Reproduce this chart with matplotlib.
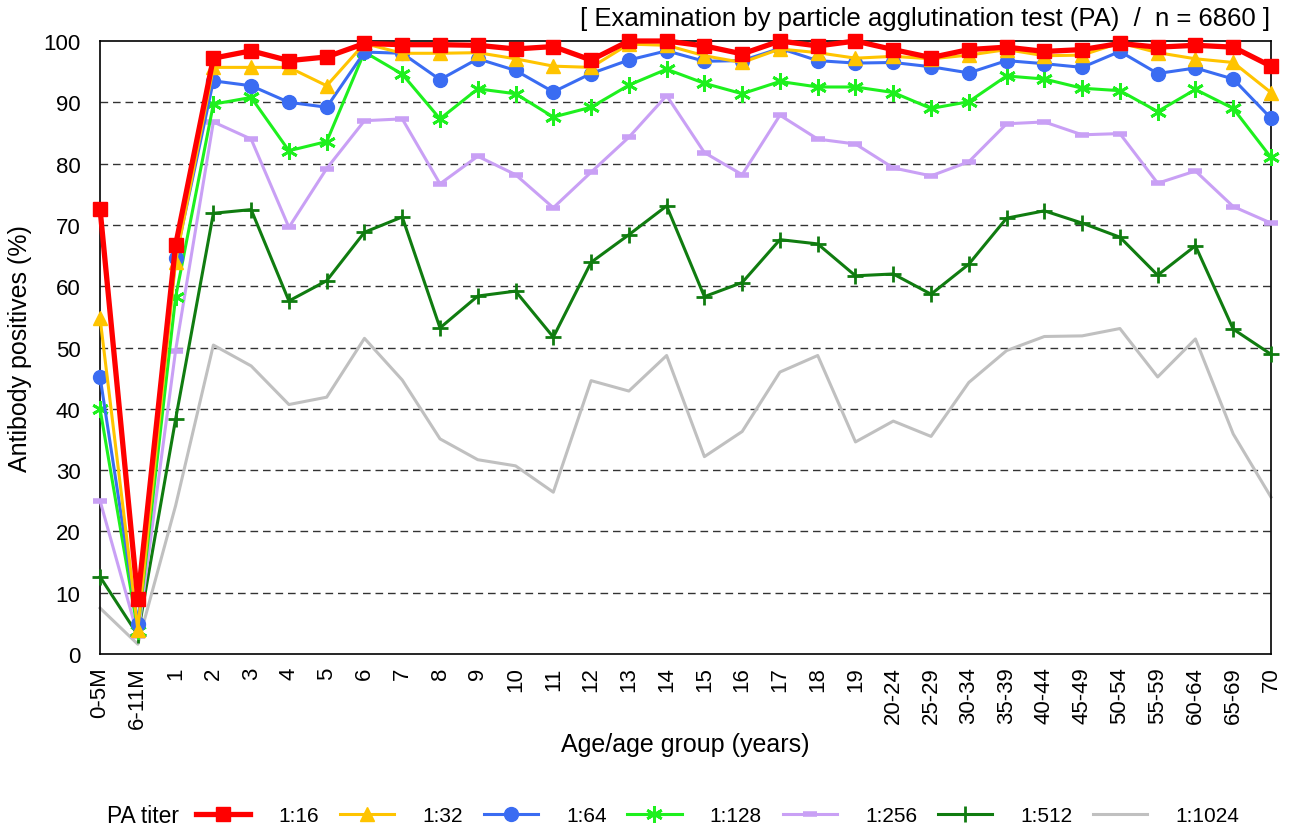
import matplotlib.pyplot as plt
import numpy as np

plt.rcParams['font.family'] = ['Liberation Sans', 'DejaVu Sans']

ages = ['0-5M', '6-11M'] + [str(a) for a in range(1, 20)] + \
    ['20-24', '25-29', '30-34', '35-39', '40-44', '45-49', '50-54', '55-59', '60-64', '65-69', '70']

t16 = [72.6, 8.9, 66.7, 97.2, 98.4, 96.8, 97.4, 99.6, 99.4, 99.4, 99.3, 98.7, 99.1, 96.9, 100, 100,
       99.2, 97.9, 100, 99.2, 100, 98.6, 97.3, 98.6, 99.0, 98.3, 98.6, 99.6, 99.0, 99.3, 99.0, 95.9]
t32 = [54.8, 4.0, 64.0, 95.7, 95.7, 95.7, 92.7, 99.6, 98.0, 98.0, 98.1, 97.1, 95.9, 95.7, 99.5, 99.3,
       97.6, 96.5, 98.7, 98.1, 97.2, 97.5, 97.1, 97.7, 98.6, 97.6, 97.7, 99.7, 98.1, 97.1, 96.5, 91.6]
t64 = [45.2, 4.9, 64.6, 93.5, 92.7, 90.0, 89.2, 98.2, 98.0, 93.7, 97.1, 95.2, 91.7, 94.7, 96.9, 98.4,
       96.7, 96.8, 98.8, 96.8, 96.4, 96.5, 95.8, 94.8, 96.8, 96.3, 95.7, 98.3, 94.7, 95.6, 93.8, 87.4]
t128 = [40.0, 3.8, 58.2, 89.7, 90.8, 82.1, 83.6, 98.2, 94.6, 87.3, 92.2, 91.4, 87.6, 89.2, 92.8, 95.4,
        93.1, 91.4, 93.4, 92.5, 92.5, 91.6, 89.0, 90.1, 94.3, 93.8, 92.3, 91.9, 88.5, 92.1, 89.0, 81.0]
t256 = [25.0, 3.0, 49.5, 86.8, 84.0, 69.6, 79.2, 87.0, 87.3, 76.7, 81.2, 78.2, 72.8, 78.6, 84.3, 91.1,
        81.8, 78.2, 87.9, 84.0, 83.2, 79.3, 78.0, 80.3, 86.5, 86.8, 84.7, 84.9, 76.8, 78.8, 73.0, 70.3]
t512 = [12.6, 3.1, 38.3, 71.9, 72.5, 57.6, 60.9, 68.8, 71.3, 53.2, 58.4, 59.2, 51.7, 63.9, 68.4, 73.1,
        58.3, 60.6, 67.6, 66.9, 61.7, 62.0, 58.7, 63.6, 71.1, 72.3, 70.3, 68.0, 61.8, 66.6, 53.0, 48.9]
t1024 = [7.5, 1.6, 24.2, 50.4, 47.0, 40.7, 41.9, 51.5, 44.7, 35.1, 31.7, 30.7, 26.4, 44.6, 42.9, 48.7,
         32.2, 36.3, 46.0, 48.7, 34.6, 38.0, 35.5, 44.3, 49.5, 51.8, 51.9, 53.1, 45.2, 51.4, 35.9, 25.6]

x = np.arange(len(ages))

fig = plt.figure(figsize=(12.91, 8.37), dpi=100)
ax = fig.add_axes([0.0775, 0.2174, 0.907, 0.7324])

for yv in range(10, 100, 10):
    ax.axhline(yv, color='#333333', lw=1.0, ls=(0, (5.5, 3.5)), zorder=0)

kw = dict(clip_on=False)
ax.plot(x, t1024, color='#c0c0c0', lw=2.2, label='1:1024', zorder=2, **kw)
ax.plot(x, t512, color='#107c10', lw=2.2, marker='+', ms=11, mew=2.0, label='1:512', zorder=3, **kw)
ax.plot(x, t256, color='#c9a0f5', lw=2.2, marker='_', ms=10, mew=4, label='1:256', zorder=4, **kw)
ax.plot(x, t128, color='#1ef01e', lw=2.2, marker=(6, 2, 0), ms=12, mew=2.0, label='1:128', zorder=5, **kw)
ax.plot(x, t64, color='#3a6cf2', lw=2.2, marker='o', ms=10, label='1:64', zorder=6, **kw)
ax.plot(x, t32, color='#ffc400', lw=2.2, marker='^', ms=10.5, label='1:32', zorder=7, **kw)
ax.plot(x, t16, color='#ff0000', lw=3.8, marker='s', ms=9.5, label='1:16', zorder=8, **kw)

ax.set_xlim(0, len(ages) - 1)
ax.set_ylim(0, 100)
ax.set_yticks(range(0, 101, 10))
ax.set_xticks(x)
ax.set_xticklabels(ages, rotation=90)
ax.tick_params(length=0, labelsize=16)
ax.tick_params(axis='y', pad=14)
ax.tick_params(axis='x', pad=9)
for s in ax.spines.values():
    s.set_linewidth(1.2)
    s.set_color('black')
ax.set_ylabel('Antibody positives (%)', fontsize=18, labelpad=8)
ax.set_xlabel('Age/age group (years)', fontsize=18, labelpad=3)

fig.text(0.984, 0.977, '[ Examination by particle agglutination test (PA)  /  n = 6860 ]',
         ha='right', va='center', fontsize=18.5)

handles, labels = ax.get_legend_handles_labels()
handles, labels = handles[::-1], labels[::-1]
fig.text(0.083, 0.024, 'PA titer', ha='left', va='center', fontsize=16.5)
fig.legend(handles, labels, loc='center left', bbox_to_anchor=(0.152, 0.024), ncol=7,
           frameon=False, fontsize=15, handlelength=2.6, columnspacing=1.0,
           handletextpad=1.35, borderpad=0, borderaxespad=0)

fig.savefig('out.png', dpi=100)
